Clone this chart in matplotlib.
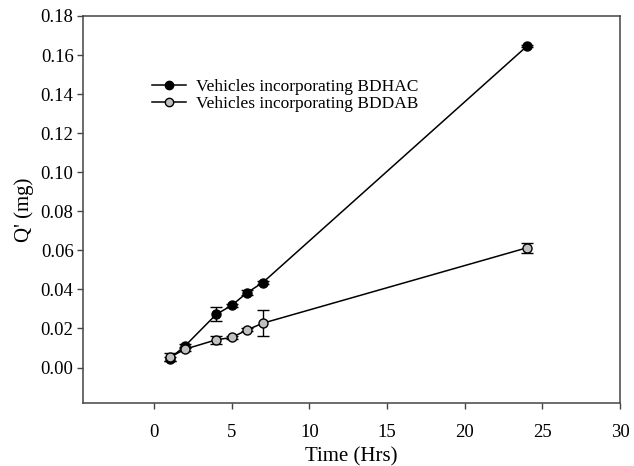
import numpy as np
import matplotlib
matplotlib.use("Agg")
import matplotlib.pyplot as plt
from matplotlib.lines import Line2D

plt.rcParams["font.family"] = ["Liberation Serif", "DejaVu Serif"]

# time points (hrs)
time_hrs = [1, 2, 4, 5, 6, 7, 24]

# BDHAC vehicles
bdhac_q = [0.0045, 0.0111, 0.0272, 0.0318, 0.0384, 0.0435, 0.1645]
bdhac_err = [0.0010, 0.0008, 0.0036, 0.0008, 0.0013, 0.0008, 0.0005]

# BDDAB vehicles
bddab_q = [0.0052, 0.0094, 0.0142, 0.0154, 0.0193, 0.0227, 0.0613]
bddab_err = [0.0020, 0.0008, 0.0022, 0.0008, 0.0008, 0.0066, 0.0024]

labels = ["Vehicles incorporating BDHAC", "Vehicles incorporating BDDAB"]
face_colors = ["black", "#c0c0c0"]

fig = plt.figure(figsize=(6.34, 4.66), dpi=100)
ax = fig.add_axes([0.1314, 0.1358, 0.978 - 0.1314, 0.9657 - 0.1358])

handles = []
for q, err, fc in zip([bdhac_q, bddab_q], [bdhac_err, bddab_err], face_colors):
    ax.errorbar(time_hrs, q, yerr=err, color="black", lw=1.1,
                marker="o", ms=6.5, mfc=fc, mec="black", mew=1,
                ecolor="black", elinewidth=1, capsize=4, capthick=1, zorder=3)
    handles.append(Line2D([0], [0], color="black", lw=1.1, marker="o",
                          ms=6, mfc=fc, mec="black", mew=1))

ax.set_xlim(-4.55, 30)
ax.set_ylim(-0.018, 0.18)
ax.set_xticks(np.arange(0, 31, 5))
yt = np.arange(0, 0.181, 0.02)
ax.set_yticks(yt)
ax.set_yticklabels([f"{v:.2f}" for v in yt])

for s in ax.spines.values():
    s.set_color("#444444")
    s.set_linewidth(1.1)
ax.tick_params(direction="out", length=4, width=1, color="#444444",
               labelsize=13.5, pad=3)
ax.tick_params(axis="x", pad=11)

ax.set_xlabel("Time (Hrs)", fontsize=15, labelpad=5)
ax.set_ylabel("Q' (mg)", fontsize=15, labelpad=5)

fig.legend(handles, labels, loc="upper left",
           bbox_to_anchor=(152 / 634, 1 - 79 / 466), frameon=False,
           fontsize=12.5, handlelength=1.95, handletextpad=0.6,
           borderpad=0, borderaxespad=0, labelspacing=0.05)

fig.savefig("out.png", dpi=100)
